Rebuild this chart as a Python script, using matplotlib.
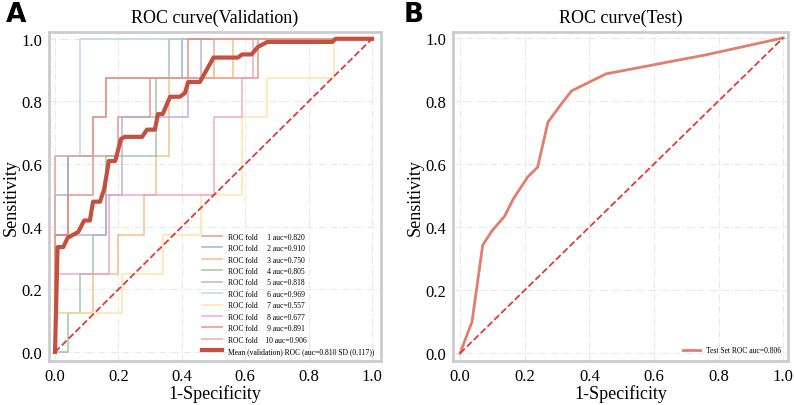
import matplotlib
matplotlib.use('Agg')
from matplotlib import pyplot as plt

# fold ROC curves (fpr, tpr)
fold_fpr = [
    [0, 0, 0.04, 0.04, 0.20, 0.20, 0.30, 0.30, 0.64, 0.64, 1],
    [0, 0, 0.04, 0.04, 0.12, 0.12, 0.16, 0.16, 0.40, 0.40, 1],
    [0, 0, 0.12, 0.12, 0.20, 0.20, 0.28, 0.28, 0.32, 0.32, 0.36, 0.36, 0.56, 0.56, 1],
    [0, 0.04, 0.04, 0.08, 0.08, 0.12, 0.12, 0.16, 0.16, 0.32, 0.32, 0.36, 0.36, 1],
    [0, 0, 0.16, 0.16, 0.21, 0.21, 0.42, 0.42, 0.46, 0.46, 1],
    [0, 0, 0.08, 0.08, 1],
    [0, 0, 0.21, 0.21, 0.34, 0.34, 0.46, 0.46, 0.59, 0.59, 0.67, 0.67, 0.88, 0.88, 1],
    [0, 0, 0.17, 0.17, 0.50, 0.50, 0.59, 0.59, 0.625, 0.625, 1],
    [0, 0, 0.04, 0.04, 0.12, 0.12, 0.16, 0.16, 0.42, 0.42, 1],
    [0, 0, 0.12, 0.12, 0.16, 0.16, 0.50, 0.50, 1],
]
fold_tpr = [
    [0, 0.375, 0.375, 0.625, 0.625, 0.75, 0.75, 0.875, 0.875, 1, 1],
    [0, 0.5, 0.5, 0.625, 0.625, 0.75, 0.75, 0.875, 0.875, 1, 1],
    [0, 0.125, 0.125, 0.25, 0.25, 0.375, 0.375, 0.5, 0.5, 0.625, 0.625, 0.875, 0.875, 1, 1],
    [0, 0, 0.125, 0.125, 0.25, 0.25, 0.375, 0.375, 0.625, 0.625, 0.875, 0.875, 1, 1],
    [0, 0.375, 0.375, 0.5, 0.5, 0.75, 0.75, 0.875, 0.875, 1, 1],
    [0, 0.625, 0.625, 1, 1],
    [0, 0.125, 0.125, 0.25, 0.25, 0.375, 0.375, 0.5, 0.5, 0.75, 0.75, 0.875, 0.875, 1, 1],
    [0, 0.25, 0.25, 0.5, 0.5, 0.75, 0.75, 0.875, 0.875, 1, 1],
    [0, 0.375, 0.375, 0.5, 0.5, 0.75, 0.75, 0.875, 0.875, 1, 1],
    [0, 0.625, 0.625, 0.75, 0.75, 0.875, 0.875, 1, 1],
]
fold_auc = [0.820, 0.910, 0.750, 0.805, 0.818, 0.969, 0.557, 0.677, 0.891, 0.906]
fold_colors = ['#e8897f', '#7fb3d5', '#f5b67a', '#8cc09a', '#b0a9d8',
               '#b5cfe6', '#fbe39c', '#f49ac2', '#e6826f', '#e9a48f']

mean_fpr = [0, 0.008, 0.026, 0.04, 0.073, 0.092, 0.11, 0.12, 0.142, 0.155, 0.17, 0.19,
            0.208, 0.22, 0.275, 0.29, 0.315, 0.325, 0.34, 0.363, 0.394, 0.41, 0.42, 0.457,
            0.5, 0.577, 0.59, 0.62, 0.64, 0.67, 0.875, 0.885, 1.0]
mean_tpr = [0, 0.335, 0.335, 0.365, 0.383, 0.42, 0.42, 0.48, 0.48, 0.52, 0.61, 0.61,
            0.68, 0.687, 0.687, 0.71, 0.71, 0.76, 0.76, 0.815, 0.815, 0.827, 0.862, 0.862,
            0.94, 0.94, 0.95, 0.95, 0.974, 0.99, 0.99, 1.0, 1.0]
mean_auc = 0.810
mean_sd = 0.117

test_fpr = [0, 0.037, 0.07, 0.098, 0.138, 0.165, 0.21, 0.24, 0.272, 0.313, 0.345,
            0.452, 0.483, 0.76, 1.0]
test_tpr = [0, 0.10, 0.343, 0.387, 0.435, 0.49, 0.56, 0.59, 0.733, 0.79, 0.832,
            0.886, 0.892, 0.946, 1.0]
test_auc = 0.806

plt.rcParams['font.family'] = ['Liberation Serif', 'DejaVu Serif']

fig = plt.figure(figsize=(7.94, 4.06), dpi=100)
ax1 = fig.add_axes([0.0617, 0.108, 0.418, 0.811])
ax2 = fig.add_axes([0.5705, 0.108, 0.422, 0.811])


def style(ax, title):
    ax.set_facecolor('white')
    ax.grid(True, color='#e8e8e8', linestyle=(0, (6, 2, 1, 2)), linewidth=0.8)
    ax.set_axisbelow(True)
    for s in ax.spines.values():
        s.set_color('#cccccc')
        s.set_linewidth(2)
    ax.tick_params(length=0, labelsize=12, pad=5)
    ax.set_xticks([0, 0.2, 0.4, 0.6, 0.8, 1.0])
    ax.set_yticks([0, 0.2, 0.4, 0.6, 0.8, 1.0])
    ax.set_xlabel('1-Specificity', fontsize=13, labelpad=0)
    ax.set_ylabel('Sensitivity', fontsize=13, labelpad=1)
    ax.set_title(title, fontsize=13, pad=7)


# validation panel
for i in range(10):
    ax1.plot(fold_fpr[i], fold_tpr[i], color=fold_colors[i], lw=1.2, alpha=0.8,
             label='ROC fold    %2d auc=%.3f' % (i + 1, fold_auc[i]))
ax1.plot(mean_fpr, mean_tpr, color='#c4503f', lw=3,
         label='Mean (validation) ROC (auc=%.3f SD (%.3f))' % (mean_auc, mean_sd))
ax1.plot([0, 1], [0, 1], color='#e03a3a', lw=1.3, linestyle='--')
ax1.set_xlim(-0.019, 1.028)
ax1.set_ylim(-0.029, 1.022)
style(ax1, 'ROC curve(Validation)')
ax1.legend(loc='lower right', fontsize=5.5, frameon=False, handlelength=2.6,
           labelspacing=0.45, borderaxespad=0.4, handletextpad=0.8)

# test panel
ax2.plot(test_fpr, test_tpr, color='#df7f6d', lw=2,
         label='Test Set ROC auc=%.3f' % test_auc)
ax2.plot([0, 1], [0, 1], color='#e03a3a', lw=1.3, linestyle='--')
ax2.set_xlim(-0.022, 1.015)
ax2.set_ylim(-0.025, 1.019)
style(ax2, 'ROC curve(Test)')
ax2.legend(loc='lower right', fontsize=5.5, frameon=False, handlelength=2.2,
           borderaxespad=0.5)

fig.text(0.008, 0.995, 'A', fontsize=19, fontweight='bold', family='DejaVu Sans', va='top')
fig.text(0.508, 0.995, 'B', fontsize=19, fontweight='bold', family='DejaVu Sans', va='top')

fig.savefig('out.png', dpi=100)
